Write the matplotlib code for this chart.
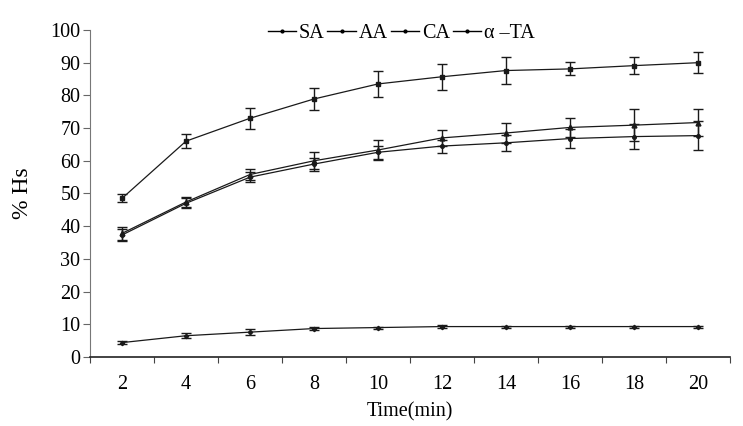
import numpy as np
import matplotlib
matplotlib.use("Agg")
import matplotlib.pyplot as plt

plt.rcParams['font.family'] = ['Liberation Serif', 'DejaVu Serif']

times = ['2', '4', '6', '8', '10', '12', '14', '16', '18', '20']

sa = [4.4, 6.5, 7.6, 8.7, 9.0, 9.3, 9.3, 9.3, 9.3, 9.3]
sa_err = [0.4, 0.8, 1.0, 0.4, 0.3, 0.4, 0.3, 0.3, 0.3, 0.3]

aa = [37.3, 47.0, 55.0, 59.0, 62.6, 64.5, 65.5, 66.8, 67.4, 67.7]
aa_err = [1.8, 1.5, 1.5, 2.0, 2.0, 2.0, 2.4, 2.8, 3.8, 4.5]

ca = [37.8, 47.4, 55.8, 60.0, 63.3, 67.0, 68.5, 70.2, 70.9, 71.7]
ca_err = [2.0, 1.6, 1.8, 2.6, 3.2, 2.5, 3.2, 3.0, 5.0, 4.0]

ta = [48.5, 66.0, 73.0, 78.9, 83.5, 85.7, 87.6, 88.1, 89.1, 90.0]
ta_err = [1.2, 2.2, 3.2, 3.5, 4.0, 4.0, 4.0, 2.0, 2.7, 3.2]

series = [
    ('SA', sa, sa_err, 'D', 2.2),
    ('AA', aa, aa_err, 'o', 2.6),
    ('CA', ca, ca_err, '^', 3.5),
    ('\u03b1 \u2013TA', ta, ta_err, 's', 3.2),
]

fig = plt.figure(figsize=(7.43, 4.26), dpi=100)
ax = fig.add_axes([0.1211, 0.162, 0.8614, 0.7676])

x = np.arange(len(times))
for name, vals, err, mk, ms in series:
    ax.errorbar(x, vals, yerr=err, color='#1a1a1a', lw=0.9, marker=mk, ms=ms,
                capsize=3.5, elinewidth=1.0, capthick=1.0, label=name)

ax.set_xlim(-0.5, len(times) - 0.5)
ax.set_ylim(0, 100)
ax.set_yticks(np.arange(0, 101, 10))
ax.tick_params(axis='y', direction='out', length=5, labelsize=14.5, color='#666666', pad=2)

# category axis: tick marks between categories, labels at centres
ax.set_xticks(np.arange(-0.5, len(times), 1.0))
ax.set_xticklabels([])
ax.set_xticks(x, minor=True)
ax.set_xticklabels(times, minor=True)
ax.tick_params(axis='x', which='major', direction='out', length=4, color='#444444')
ax.tick_params(axis='x', which='minor', length=0, labelsize=14.5, pad=13)

ax.spines['top'].set_visible(False)
ax.spines['right'].set_visible(False)
ax.spines['left'].set_color('#777777')
ax.spines['bottom'].set_color('#222222')
ax.spines['bottom'].set_linewidth(1.2)

ax.set_xlabel('Time(min)', fontsize=14.5, labelpad=6)
ax.set_ylabel('% Hs', fontsize=17, labelpad=12)

leg_handles = [plt.Line2D([], [], color='black', lw=1, marker='o', ms=2) for _ in series]
fig.legend(leg_handles, [s[0] for s in series], loc='center', ncol=4,
           bbox_to_anchor=(0.54, 0.922), frameon=False, fontsize=14.5,
           handlelength=1.4, handletextpad=0.15, columnspacing=0.15)

fig.savefig('out.png', dpi=100)
